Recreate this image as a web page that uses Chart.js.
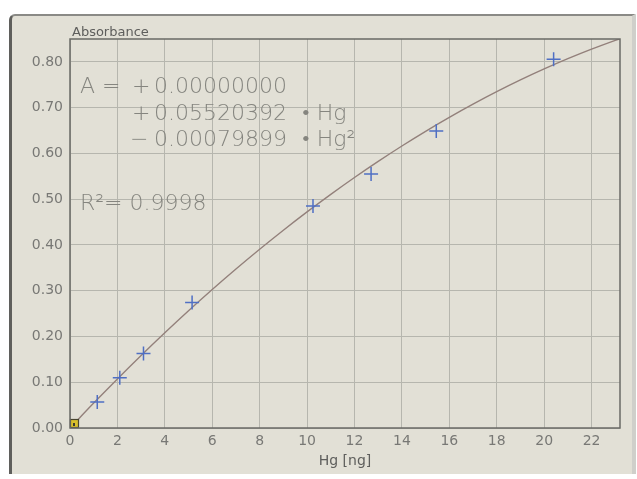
<!DOCTYPE html>
<html>
<head>
<meta charset="utf-8">
<script src="https://cdn.jsdelivr.net/npm/chart.js@4.4.1/dist/chart.umd.min.js"></script>
<style>
  html, body { margin: 0; padding: 0; background: #ffffff; }
  #screen {
    position: absolute; left: 9px; top: 14px; width: 620px; height: 458px;
    background: #e2e0d6; border-left: 3px solid #5f5f5c; border-top: 2px solid #8a8a86;
    border-right: 4px solid #cfcfca; border-top-left-radius: 6px;
  }
  #wrap { position: absolute; left: 0; top: 0; width: 637px; height: 479px; }
</style>
</head>
<body>
<div id="screen"></div>
<div id="wrap"><canvas id="calChart" width="637" height="479"></canvas></div>
<script>
// calibration standards
const hgValues = [1.15, 2.1, 3.1, 5.15, 10.25, 12.7, 15.45, 20.4];
const absValues = [0.057, 0.110, 0.163, 0.274, 0.485, 0.555, 0.649, 0.806];

// quadratic fit A = c0 + c1*Hg + c2*Hg^2
const fitCoeffs = [0.00000000, 0.05520392, -0.00079899];
const rSquared = "0.9998";
const fitHg = [0, 1, 2, 3, 4, 5, 6, 7, 8, 9, 10, 11, 12, 13, 14, 15, 16, 17, 18, 19, 20, 21, 22, 23, 23.2];

const xTicks = [0, 2, 4, 6, 8, 10, 12, 14, 16, 18, 20, 22];
const yTicks = [0, 0.1, 0.2, 0.3, 0.4, 0.5, 0.6, 0.7, 0.8];

const tickFont = {family: "DejaVu Sans", size: 14};
const gridColor = "#b6b6ae";

const fitPoints = fitHg.map(x => ({x: x, y: fitCoeffs[0] + fitCoeffs[1] * x + fitCoeffs[2] * x * x}));
const stdPoints = hgValues.map((x, i) => ({x: x, y: absValues[i]}));

// small yellow marker sitting in the origin corner
const originMark = document.createElement("canvas");
originMark.width = 20; originMark.height = 20;
(function () {
  const c = originMark.getContext("2d");
  c.fillStyle = "#d9bf2c";
  c.fillRect(10, 1, 9, 9);
  c.strokeStyle = "#4a4630";
  c.lineWidth = 1.2;
  c.strokeRect(10.5, 1.5, 8, 8);
  c.fillStyle = "#3b3a30";
  c.fillRect(13, 5, 2, 3);
})();

const framePlugin = {
  id: "frameAndText",
  afterDraw(chart) {
    const ctx = chart.ctx;
    const a = chart.chartArea;
    ctx.save();
    ctx.strokeStyle = "#6a6a66";
    ctx.lineWidth = 1.5;
    ctx.strokeRect(a.left, a.top, a.right - a.left, a.bottom - a.top);

    ctx.fillStyle = "#5e5e5c";
    ctx.font = "13px 'DejaVu Sans'";
    ctx.textBaseline = "alphabetic";
    ctx.fillText("Absorbance", a.left + 2, a.top - 3);

    ctx.fillStyle = "#85857f";
    ctx.font = "200 22px 'DejaVu Sans'";
    const x0 = a.left + 10;
    ctx.fillText("A =", x0, a.top + 54);
    ctx.fillText("+", x0 + 52, a.top + 54);
    ctx.fillText(fitCoeffs[0].toFixed(8), x0 + 74, a.top + 54);
    ctx.fillText("+", x0 + 52, a.top + 81);
    ctx.fillText(fitCoeffs[1].toFixed(8), x0 + 74, a.top + 81);
    ctx.fillText("\u2022 Hg", x0 + 222, a.top + 81);
    ctx.fillText("\u2212", x0 + 50, a.top + 107);
    ctx.fillText(Math.abs(fitCoeffs[2]).toFixed(8), x0 + 74, a.top + 107);
    ctx.fillText("\u2022 Hg\u00b2", x0 + 222, a.top + 107);
    ctx.fillText("R\u00b2= " + rSquared, x0, a.top + 171);
    ctx.restore();
  }
};

new Chart(document.getElementById("calChart"), {
  type: "scatter",
  data: {
    datasets: [{
      label: "fit",
      data: fitPoints,
      showLine: true,
      borderColor: "#93807b",
      borderWidth: 1.4,
      pointRadius: 0,
      cubicInterpolationMode: "monotone",
      order: 2
    }, {
      label: "standards",
      data: stdPoints,
      pointStyle: "cross",
      pointRadius: 7,
      borderColor: "#4f6fc4",
      borderWidth: 1.5,
      order: 1
    }, {
      label: "origin",
      data: [{x: 0, y: 0}],
      pointStyle: originMark,
      clip: false,
      order: 0
    }]
  },
  options: {
    responsive: false,
    animation: false,
    layout: {padding: {left: 0, top: 39, right: 17, bottom: 0}},
    plugins: {legend: {display: false}, tooltip: {enabled: false}},
    scales: {
      x: {
        type: "linear", min: 0, max: 23.2,
        afterBuildTicks: s => { s.ticks = xTicks.map(v => ({value: v})); },
        afterFit: s => { s.height = 51; },
        grid: {color: gridColor, lineWidth: 1, drawTicks: false},
        border: {display: false},
        ticks: {font: tickFont, color: "#787875", padding: 5, callback: v => String(v)},
        title: {display: true, text: "Hg [ng]", font: {family: "DejaVu Sans", size: 14}, color: "#5e5e5c", padding: {top: 0, bottom: 9}}
      },
      y: {
        type: "linear", min: 0, max: 0.85,
        afterBuildTicks: s => { s.ticks = yTicks.map(v => ({value: v})); },
        afterFit: s => { s.width = 70; },
        grid: {color: gridColor, lineWidth: 1, drawTicks: false},
        border: {display: false},
        ticks: {font: tickFont, color: "#787875", padding: 7, callback: v => v.toFixed(2)}
      }
    }
  },
  plugins: [framePlugin]
});
</script>
</body>
</html>
